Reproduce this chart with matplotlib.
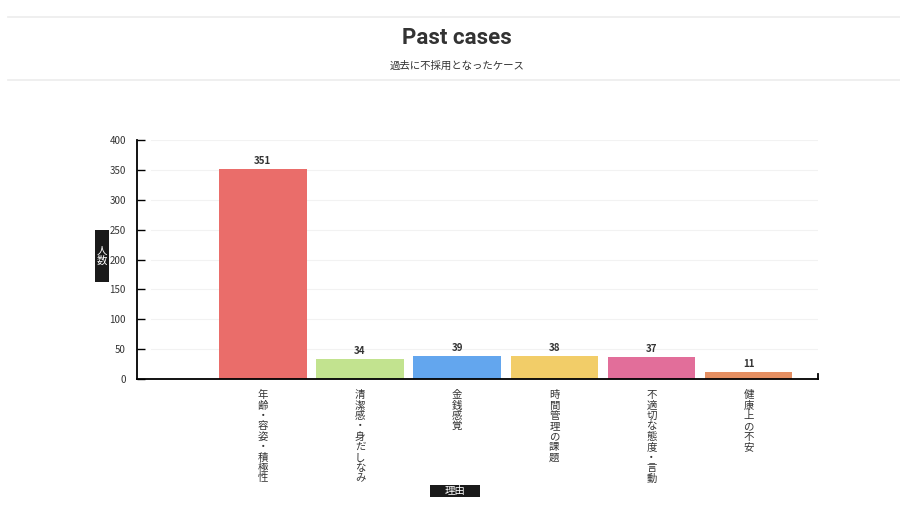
import matplotlib.pyplot as plt
from matplotlib.lines import Line2D
from matplotlib.patches import Rectangle

plt.rcParams['font.family'] = ['Noto Sans CJK JP', 'DejaVu Sans']

categories = ['年齢・容姿・積極性', '清潔感・身だしなみ', '金銭感覚',
              '時間管理の課題', '不適切な態度・言動', '健康上の不安']
values = [351, 34, 39, 38, 37, 11]
colors = ['#EA6D6A', '#C2E38F', '#63A6EE', '#F2CD68', '#E26E9A', '#E48F62']
yticks = [0, 50, 100, 150, 200, 250, 300, 350, 400]

W, H = 900, 505
fig = plt.figure(figsize=(9, 5.05), dpi=100)
ax = fig.add_axes([137 / W, 1 - 379 / H, (818 - 137) / W, (379 - 140) / H])

x = list(range(len(categories)))
ax.bar(x, values, width=0.9, color=colors, zorder=2)
for xi, v in zip(x, values):
    ax.text(xi, v + 5, str(v), ha='center', va='bottom', fontsize=7,
            fontweight='bold', color='#333333')

ax.set_xlim(-1.295, 5.714)
ax.set_ylim(0, 400)
ax.set_yticks(yticks)
ax.set_yticklabels([str(t) for t in yticks], fontsize=7, color='#333333')
ax.tick_params(axis='y', direction='in', length=6, width=1, pad=8)
for t in yticks[1:]:
    ax.axhline(t, xmin=0.02, color='#f2f2f2', lw=0.8, zorder=0)

ax.set_xticks(x)
ax.set_xticklabels(['\n'.join(c) for c in categories], fontsize=7.5,
                   color='#333333', linespacing=1.05, va='top')
ax.tick_params(axis='x', length=0, pad=8)

for s in ['top', 'right']:
    ax.spines[s].set_visible(False)
ax.spines['left'].set_linewidth(1.3)
ax.spines['bottom'].set_linewidth(1.3)
ax.plot([1, 1], [0, 0.02], transform=ax.transAxes, color='black', lw=1.3,
        clip_on=False)

# axis titles in dark boxes
fig.add_artist(Rectangle((95 / W, 1 - 282 / H), 14 / W, 52 / H,
                         transform=fig.transFigure, fc='#1a1a1a', ec='none'))
fig.text(102 / W, 1 - 256 / H, '人\n数', ha='center', va='center',
         fontsize=7.5, color='white', linespacing=1.0)
fig.add_artist(Rectangle((430 / W, 1 - 497 / H), 50 / W, 12 / H,
                         transform=fig.transFigure, fc='#1a1a1a', ec='none'))
fig.text(455 / W, 1 - 491 / H, '理由', ha='center', va='center',
         fontsize=7.5, color='white')

# header
fig.text(457 / W, 1 - 38 / H, 'Past cases', ha='center', va='center',
         fontsize=16, fontweight='bold', color='#333333',
         family=['Roboto', 'DejaVu Sans'])
fig.text(457 / W, 1 - 66 / H, '過去に不採用となったケース', ha='center',
         va='center', fontsize=7.5, color='#333333')
for yy in [17, 80]:
    fig.add_artist(Line2D([8 / W, 1], [1 - yy / H] * 2, color='#ececec', lw=1.2))

fig.savefig('out.png', dpi=100, facecolor='white')
